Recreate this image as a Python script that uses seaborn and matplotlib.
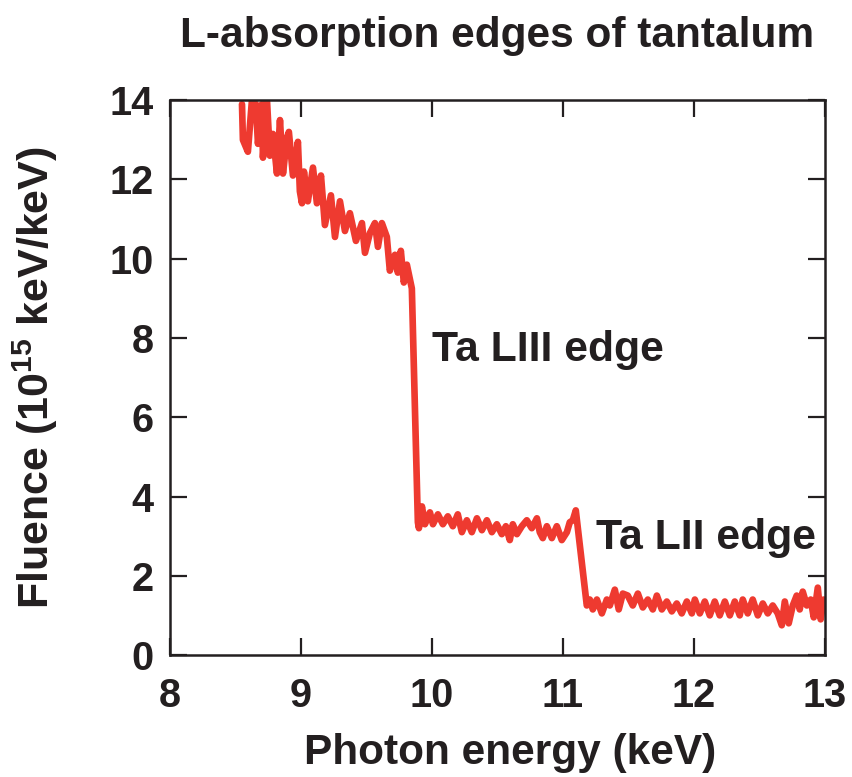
import matplotlib
matplotlib.use("Agg")
import matplotlib.pyplot as plt
import seaborn as sns
import pandas as pd

# Photon energy (keV) and fluence (1e15 keV/keV)
energy_pre = [8.550, 8.557, 8.595, 8.626, 8.656, 8.672, 8.702, 8.710, 8.740, 8.763,
              8.786, 8.817, 8.840, 8.863, 8.893, 8.908, 8.939, 8.977, 8.992, 9.008,
              9.023, 9.053, 9.092, 9.122, 9.153, 9.183, 9.229, 9.260, 9.298, 9.336,
              9.374, 9.420, 9.466, 9.489, 9.527, 9.565, 9.588, 9.618, 9.656, 9.679,
              9.718, 9.740, 9.763, 9.786, 9.809, 9.847]
fluence_pre = [13.9, 13.0, 12.7, 14.0, 13.9, 12.9, 13.9, 12.55, 14.05, 12.6,
               13.15, 12.15, 13.5, 12.15, 13.05, 13.2, 12.1, 12.95, 11.7, 11.4,
               12.2, 11.45, 12.3, 11.4, 12.1, 10.85, 11.6, 10.55, 11.45, 10.7,
               11.15, 10.45, 10.9, 10.15, 10.65, 10.9, 10.3, 10.9, 10.55, 9.7,
               10.1, 9.65, 10.2, 9.4, 9.85, 9.25]

energy_mid = [9.893, 9.901, 9.924, 9.947, 9.985, 10.008, 10.046, 10.084, 10.122, 10.160,
              10.198, 10.229, 10.267, 10.305, 10.344, 10.382, 10.420, 10.458, 10.496, 10.534,
              10.565, 10.595, 10.618, 10.649, 10.687, 10.725, 10.763, 10.802, 10.824, 10.847,
              10.878, 10.916, 10.954, 10.992, 11.031, 11.053, 11.076, 11.099]
fluence_mid = [3.35, 3.2, 3.75, 3.3, 3.6, 3.3, 3.55, 3.3, 3.5, 3.25,
               3.55, 3.1, 3.4, 3.1, 3.45, 3.15, 3.4, 3.1, 3.3, 3.05,
               3.25, 2.9, 3.3, 3.05, 3.25, 3.4, 3.2, 3.45, 3.1, 2.95,
               3.25, 2.95, 3.25, 2.9, 3.1, 3.35, 3.4, 3.65]

energy_post = [11.183, 11.206, 11.229, 11.260, 11.298, 11.336, 11.359, 11.397, 11.427, 11.458,
               11.496, 11.534, 11.573, 11.611, 11.649, 11.687, 11.718, 11.756, 11.794, 11.832,
               11.870, 11.908, 11.947, 11.985, 12.008, 12.046, 12.084, 12.122, 12.160, 12.198,
               12.237, 12.275, 12.313, 12.351, 12.374, 12.412, 12.450, 12.489, 12.527, 12.565,
               12.603, 12.641, 12.672, 12.695, 12.725, 12.756, 12.786, 12.809, 12.832, 12.863,
               12.893, 12.916, 12.947, 12.969, 12.992]
fluence_post = [1.25, 1.4, 1.15, 1.4, 1.05, 1.4, 1.25, 1.65, 1.15, 1.55,
                1.5, 1.25, 1.55, 1.2, 1.4, 1.15, 1.5, 1.15, 1.35, 1.1,
                1.3, 1.05, 1.35, 1.05, 1.4, 1.05, 1.35, 1.0, 1.35, 1.0,
                1.35, 1.0, 1.35, 1.0, 1.4, 1.05, 1.4, 1.0, 1.3, 1.05,
                1.25, 1.05, 0.75, 1.35, 0.8, 1.25, 1.5, 1.15, 1.6, 1.25,
                1.4, 0.95, 1.7, 0.9, 1.4]

x_ticks = [8, 9, 10, 11, 12, 13]
y_ticks = [0, 2, 4, 6, 8, 10, 12, 14]

title = "L-absorption edges of tantalum"
x_label = "Photon energy (keV)"
y_label = "Fluence (10$^{15}$ keV/keV)"
annotations = [("Ta LIII edge", 10.0, 7.42), ("Ta LII edge", 11.25, 2.68)]

df = pd.DataFrame({
    "energy": energy_pre + energy_mid + energy_post,
    "fluence": fluence_pre + fluence_mid + fluence_post,
})

sns.set_theme(style="ticks")
plt.rcParams["font.family"] = ["Liberation Sans", "DejaVu Sans"]
plt.rcParams["font.weight"] = "bold"
plt.rcParams["mathtext.default"] = "bf"
plt.rcParams["mathtext.fontset"] = "custom"
plt.rcParams["mathtext.bf"] = "Liberation Sans:bold"

TXT = "#231f20"
fig = plt.figure(figsize=(8.52, 7.77), dpi=100)
ax = fig.add_axes([0.1995, 0.157, 0.7685, 0.714])

sns.lineplot(data=df, x="energy", y="fluence", ax=ax, color="#EE3A30",
             linewidth=4.8, estimator=None, sort=False)

ax.set_xlim(8, 13)
ax.set_ylim(0, 14)
ax.set_xticks(x_ticks)
ax.set_yticks(y_ticks)
ax.set_xticklabels([str(v) for v in x_ticks])
ax.set_yticklabels([str(v) for v in y_ticks])

ax.tick_params(axis="both", which="both", direction="in", length=12, width=1.6,
               labelsize=28.5, top=True, right=True, color=TXT, labelcolor=TXT)
ax.tick_params(axis="x", pad=16)
ax.tick_params(axis="y", pad=12)
for lbl in ax.get_xticklabels() + ax.get_yticklabels():
    lbl.set_fontweight("bold")

for s in ax.spines.values():
    s.set_visible(True)
    s.set_linewidth(1.8)
    s.set_color(TXT)

ax.set_xlabel(x_label, fontsize=30.5, fontweight="bold", color=TXT)
ax.set_ylabel(y_label, fontsize=31, fontweight="bold", color=TXT)
ax.xaxis.set_label_coords(0.519, -0.14)
ax.yaxis.set_label_coords(-0.168, 0.5)
ax.set_title(title, fontsize=30.5, fontweight="bold", color=TXT, pad=38)

for text, xv, yv in annotations:
    ax.text(xv, yv, text, fontsize=30.8, fontweight="bold", color=TXT,
            ha="left", va="baseline")

fig.savefig("out.png", dpi=100)
